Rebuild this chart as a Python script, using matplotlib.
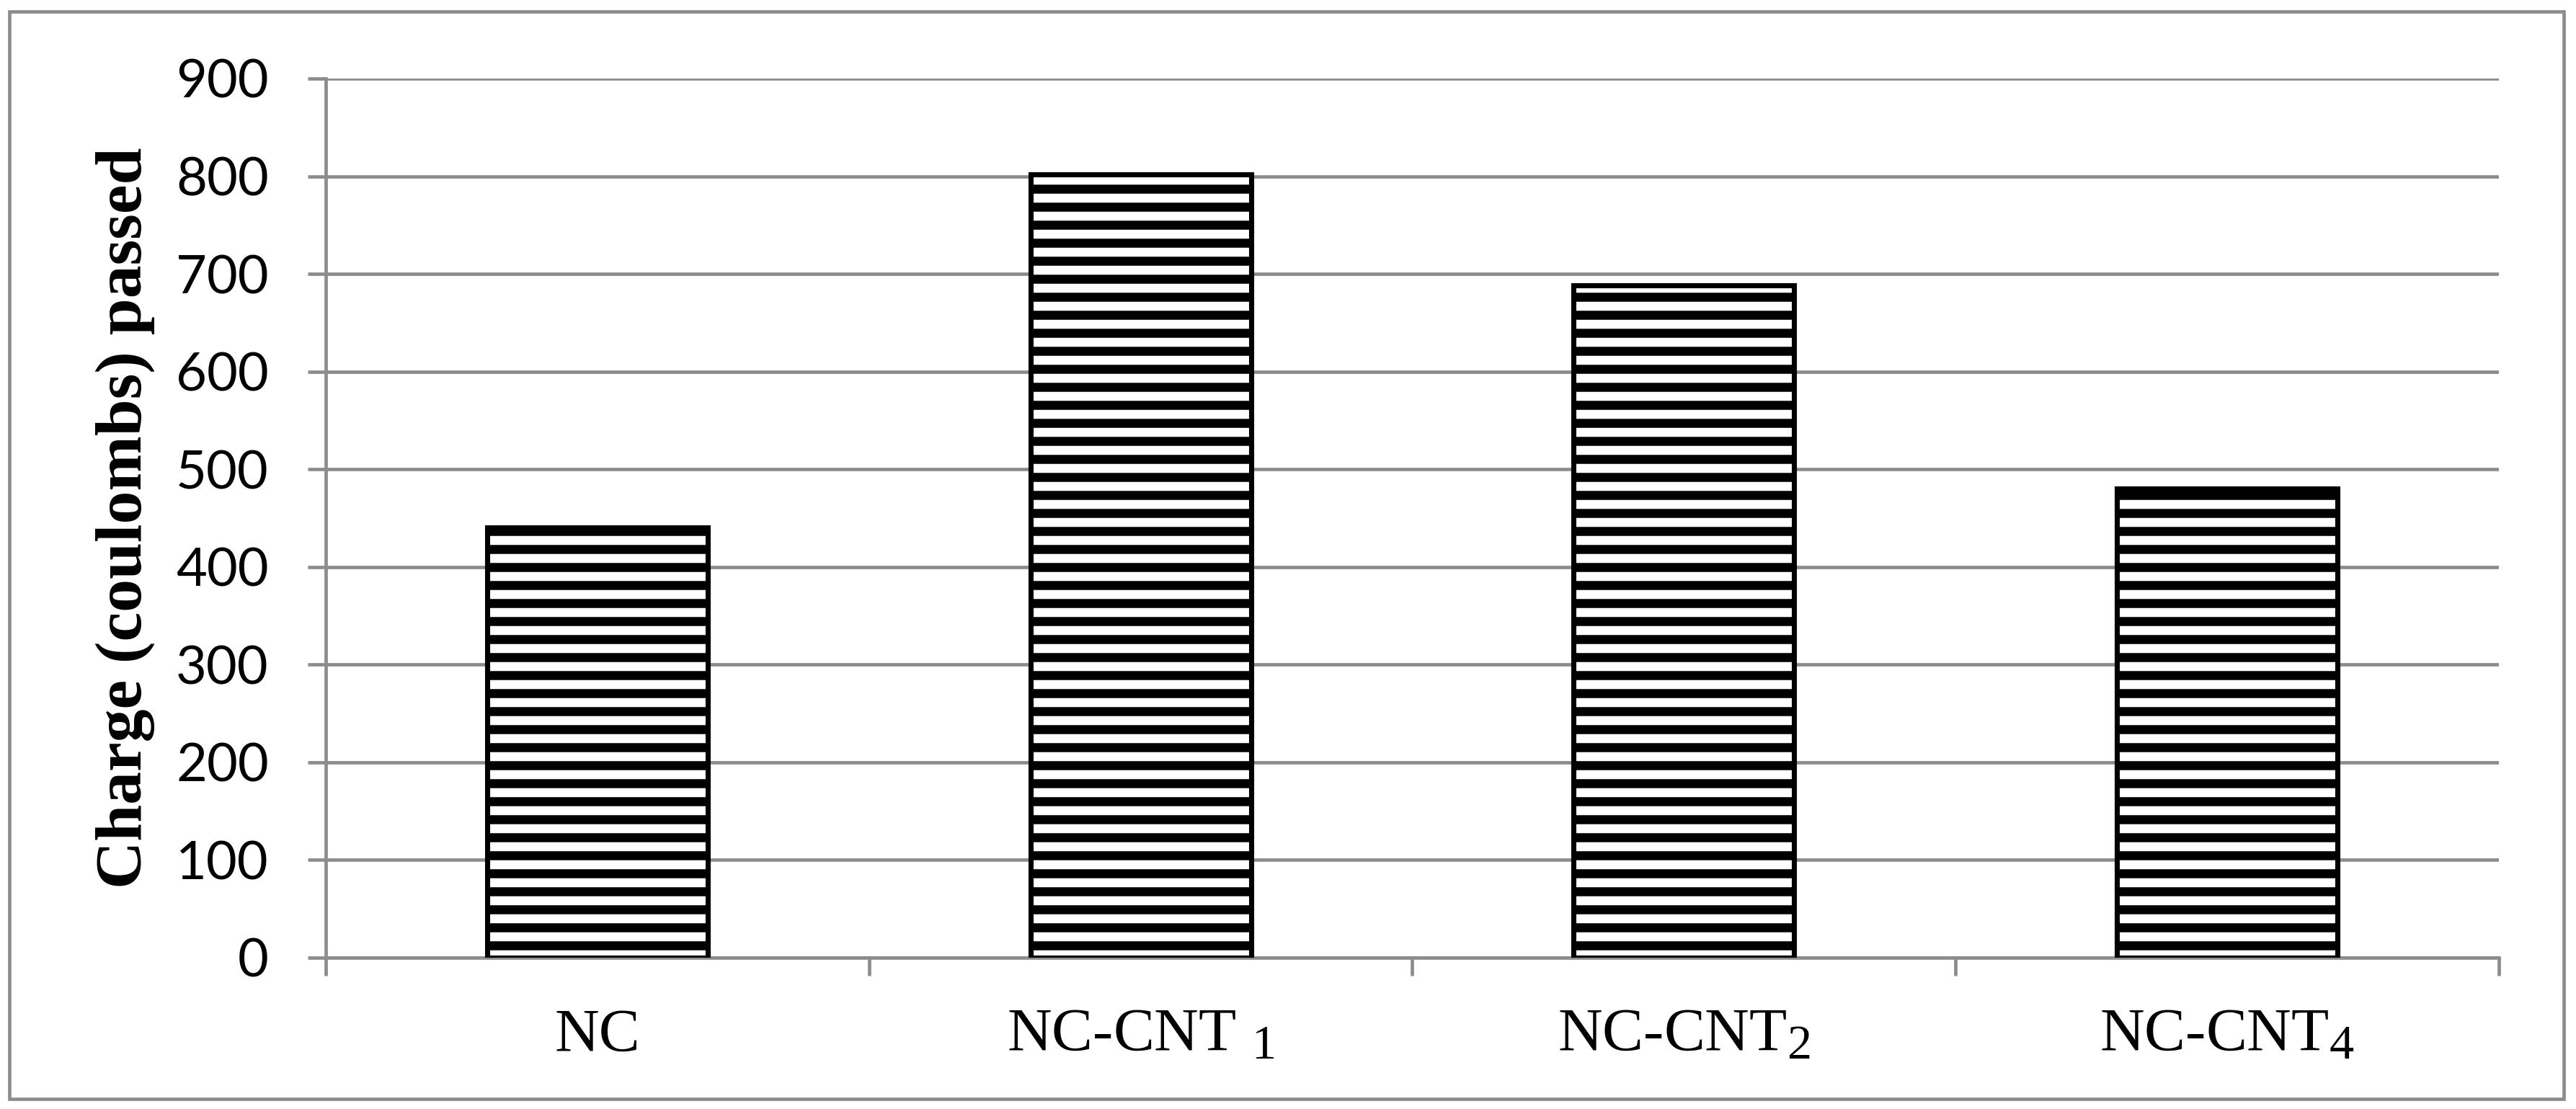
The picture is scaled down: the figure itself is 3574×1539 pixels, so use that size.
import matplotlib
matplotlib.use("Agg")
import matplotlib.pyplot as plt
import matplotlib._mathtext as mathtext_internals
from matplotlib.patches import Rectangle

# data
categories = ["NC", "NC-CNT $_1$", "NC-CNT$_2$", "NC-CNT$_4$"]
charge = [440, 802, 688, 480]
yticks = [0, 100, 200, 300, 400, 500, 600, 700, 800, 900]

grey = "#8c8c8c"
plt.rcParams["mathtext.fontset"] = "custom"
plt.rcParams["mathtext.rm"] = "Liberation Serif"
plt.rcParams["mathtext.it"] = "Liberation Serif:italic"
plt.rcParams["mathtext.bf"] = "Liberation Serif:bold"
plt.rcParams["hatch.linewidth"] = 6.0
# the subscripts in the original are a bit bigger than mathtext's default
mathtext_internals.SHRINK_FACTOR = 0.8

dpi = 150
fig = plt.figure(figsize=(3574 / dpi, 1539 / dpi), dpi=dpi)
ax = fig.add_axes([0.1265, 0.1365, 0.9700 - 0.1265, 0.9292 - 0.1365])

x = list(range(len(categories)))
ax.bar(x, charge, width=0.406, color="white", edgecolor="black",
       linewidth=3.4, hatch="-", zorder=3)

# axes look
ax.set_xlim(-0.5, len(categories) - 0.5)
ax.set_ylim(0, 900)
ax.set_yticks(yticks)
ax.set_yticklabels([str(v) for v in yticks], fontfamily="Lato", fontsize=35.5)
ax.yaxis.grid(True, color=grey, linewidth=2.25)
ax.set_axisbelow(True)
ax.tick_params(axis="y", length=12, width=2.25, color=grey, pad=26)

# category boundaries as major ticks, names on minor ticks
ax.set_xticks([i - 0.5 for i in range(len(categories) + 1)])
ax.set_xticklabels([])
ax.set_xticks(x, minor=True)
ax.set_xticklabels(categories, minor=True, fontfamily="Liberation Serif", fontsize=41)
ax.tick_params(axis="x", which="major", length=12, width=2.25, color=grey)
ax.tick_params(axis="x", which="minor", length=0, pad=34)

for side in ["top", "right"]:
    ax.spines[side].set_visible(False)
for side in ["left", "bottom"]:
    ax.spines[side].set_color(grey)
    ax.spines[side].set_linewidth(2.25)

ax.set_ylabel("Charge (coulombs) passed", fontfamily="Liberation Serif",
              fontweight="bold", fontsize=44, labelpad=14)

# outer chart border
fig.patches.append(Rectangle((0.0036, 0.0091), 0.9916, 0.9805, transform=fig.transFigure,
                             fill=False, edgecolor=grey, linewidth=2.25))

fig.savefig("out.png", dpi=dpi, facecolor="white")
plt.close(fig)
